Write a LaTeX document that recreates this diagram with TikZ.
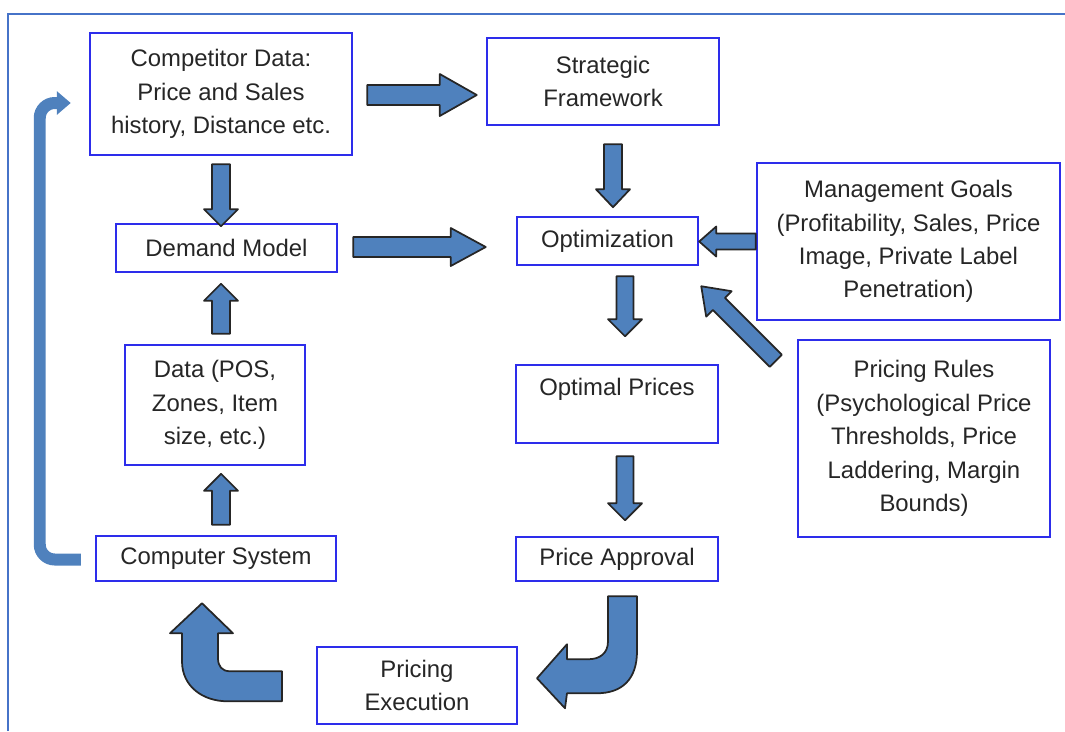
\documentclass[tikz,border=0pt]{standalone}
\usepackage{fontspec}
\setmainfont{Liberation Sans}
\usetikzlibrary{calc,arrows.meta}

\definecolor{bleuFleche}{RGB}{79,129,189}
\definecolor{bleuBoite}{RGB}{45,45,235}
\definecolor{bleuCadre}{RGB}{70,115,200}

\newcommand\px{0.02cm}

\newcommand\flecheBloc[5] {
  \coordinate (flA) at (#1) ;
  \coordinate (flB) at (#2) ;
  \coordinate (flC) at ($(flB)!#5!(flA)$) ;
  \draw[fleche]
     ($(flA)!#3!90:(flB)$)
     -- ($(flC)!#3!90:(flB)$)
     -- ($(flC)!#4!90:(flB)$)
     -- (flB)
     -- ($(flC)!#4!-90:(flB)$)
     -- ($(flC)!#3!-90:(flB)$)
     -- ($(flA)!#3!-90:(flB)$)
     -- cycle ;
}

\tikzset{
  boite/.style={draw=bleuBoite, line width=.5mm, fill=white, inner sep=0pt,
    align=center, text=black!85, font=\fontsize{13.6}{19}\selectfont},
  fleche/.style={draw=black!85, line width=.35mm, fill=bleuFleche, line join=round},
  retour/.style={draw=bleuFleche, line width=2.4mm, rounded corners=3mm,
    -{Triangle[length=2.8mm, width=4.6mm]}},
}

\begin{document}
\begin{tikzpicture}[x=\px, y=-\px]
  \useasboundingbox (0,0) rectangle (1065,731) ;
  \draw[bleuCadre, line width=.4mm] (8,731) -- (8,14) -- (1065,14) ;

  \node[boite, minimum width=262*\px, minimum height=122*\px] (compet) at (221,94)
    {Competitor Data:\\Price and Sales\\history, Distance etc.} ;
  \node[boite, minimum width=232*\px, minimum height=87*\px] (strat) at (603,81.5)
    {Strategic\\Framework} ;
  \node[boite, minimum width=221*\px, minimum height=48*\px] (demand) at (226.5,248)
    {Demand Model} ;
  \node[boite, minimum width=181*\px, minimum height=48*\px] (optim) at (607.5,241)
    {Optimization} ;
  \node[boite, minimum width=303*\px, minimum height=157*\px] (goals) at (908.5,241.5)
    {Management Goals\\(Profitability, Sales, Price\\Image, Private Label\\Penetration)} ;
  \node[boite, minimum width=252*\px, minimum height=197*\px] (rules) at (924,438.5)
    {Pricing Rules\\(Psychological Price\\Thresholds, Price\\Laddering, Margin\\Bounds)} ;
  \node[boite, minimum width=180*\px, minimum height=120*\px] (data) at (215,405)
    {Data (POS,\\Zones, Item\\size, etc.)} ;
  \node[boite, minimum width=202*\px, minimum height=78*\px] (optimal) at (617,404)
    {Optimal Prices\\\mbox{}} ;
  \node[boite, minimum width=240*\px, minimum height=45*\px] (computer) at (216,558.5)
    {Computer System} ;
  \node[boite, minimum width=202*\px, minimum height=44*\px] (approval) at (617,559)
    {Price Approval} ;
  \node[boite, minimum width=200*\px, minimum height=77*\px] (exec) at (417,685.5)
    {Pricing\\Execution} ;

  \flecheBloc{$(compet.east)+(14,1)$}{$(compet.east -| strat.west)+(-9,1)$}{2mm}{4.2mm}{7.4mm}
  \flecheBloc{$(demand.east)+(15,-1)$}{$(demand.east -| optim.west)+(-30,-1)$}{2mm}{3.8mm}{7mm}
  \flecheBloc{$(compet.south)+(0,8)$}{$(compet.south)+(0,70)$}{1.8mm}{3.4mm}{3.4mm}
  \flecheBloc{$(data.north)+(6,-10)$}{$(data.north)+(6,-60)$}{1.8mm}{3.4mm}{3.4mm}
  \flecheBloc{$(computer.north)+(5,-10)$}{$(computer.north)+(5,-61)$}{1.8mm}{3.4mm}{3.4mm}
  \flecheBloc{$(strat.south)+(10,18)$}{$(strat.south)+(10,81)$}{1.8mm}{3.4mm}{3.6mm}
  \flecheBloc{goals.west}{optim.east |- goals.west}{1.6mm}{3mm}{3.4mm}
  \flecheBloc{$(optim.south)+(17.5,10)$}{$(optim.south)+(17.5,70)$}{1.7mm}{3.4mm}{3.4mm}
  \flecheBloc{$(optimal.south)+(8,12)$}{$(optimal.south)+(8,76)$}{1.7mm}{3.4mm}{3.4mm}
  \flecheBloc{$(rules.north west)+(-21,22)$}{$(optim.south east)+(2,20)$}{1.7mm}{3.6mm}{5mm}

  \draw[fleche, shift={(approval.south)}]
     (-9,14) -- (20,14) -- (20,69)
     .. controls (20,97) and (5,111) .. (-20,111)
     -- (-50,111) -- (-52,126) -- (-80,96) -- (-50,62) -- (-50,77) -- (-29,77)
     .. controls (-17,77) and (-9,71) .. (-9,59)
     -- cycle ;
  \draw[fleche, shift={(computer.south)}]
     (-14,21) -- (17,51) -- (2,51) -- (2,76)
     .. controls (2,84) and (6,89) .. (14,89)
     -- (66,89) -- (66,119) -- (11,119)
     .. controls (-12,119) and (-34,105) .. (-34,79)
     -- (-34,51) -- (-46,51) -- cycle ;

  \draw[retour] ($(computer.west)+(-14,1)$) -- ++(-41,0) |- ($(compet.west)+(-18,9)$) ;
\end{tikzpicture}
\end{document}
